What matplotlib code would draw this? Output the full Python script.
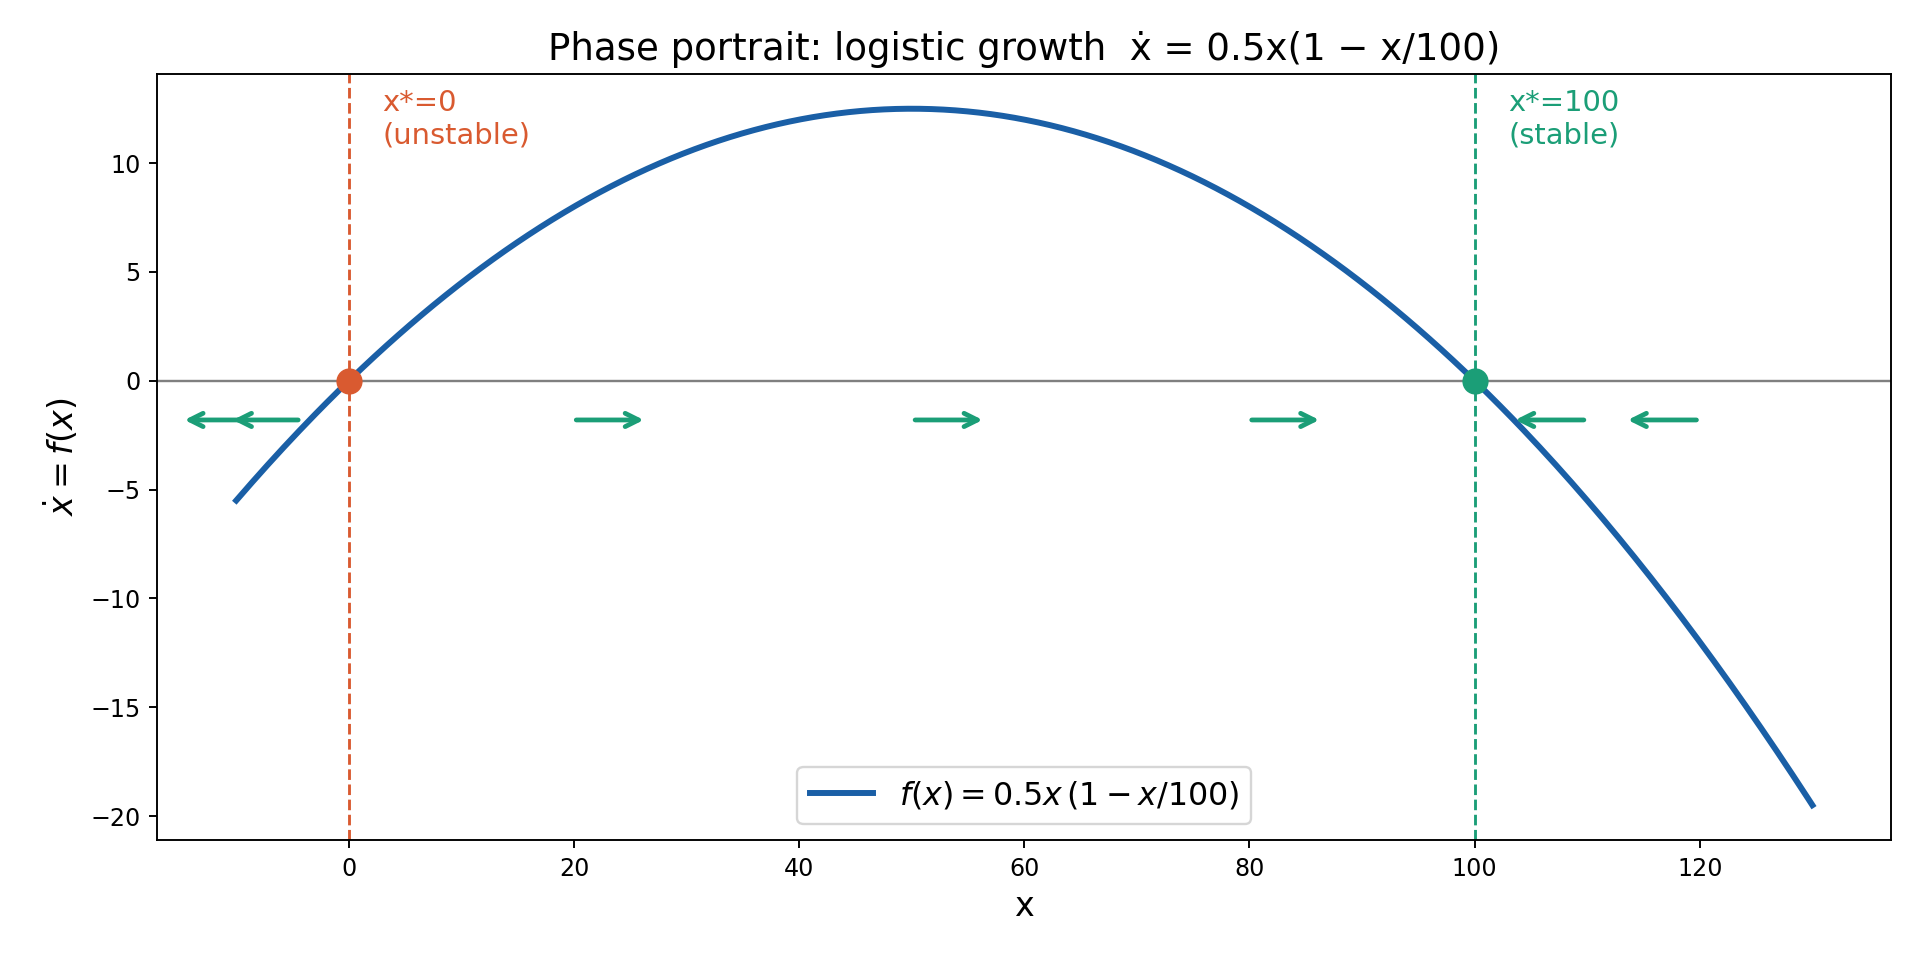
import numpy as np
import matplotlib.pyplot as plt

# model parameters (from the title) and plotted range
r = 0.5
K = 100
x_min, x_max = -10, 130

# fixed points
fixed_x = [0, 100]
fixed_labels = ["x*=0\n(unstable)", "x*=100\n(stable)"]

# flow arrows on the line y = -1.8 (tail, head)
arrow_tails = [-4.5, -9.8, 20.2, 50.3, 80.2, 109.7, 119.7]
arrow_heads = [-10.3, -14.6, 26.2, 56.3, 86.2, 103.6, 113.6]
arrow_y = -1.8

blue = "#1a5fa6"
orange = "#d95a30"
green = "#1b9e77"

x = np.linspace(x_min, x_max, 400)
fx = r * x * (1 - x / K)

fig, ax = plt.subplots(figsize=(11.2, 5.6), dpi=171.43)
fig.subplots_adjust(left=0.082, right=0.985, top=0.923, bottom=0.125)

ax.plot(x, fx, color=blue, lw=2.5, label=r"$f(x) = 0.5x\,(1 - x/100)$")
ax.axhline(0, color="gray", lw=1)

colors = [orange, green]
for xs, lab, c in zip(fixed_x, fixed_labels, colors):
    ax.axvline(xs, color=c, ls="--", lw=1.2)
    ax.plot(xs, 0, "o", color=c, ms=10, zorder=5)
    ax.text(xs + 3, 13.4, lab, color=c, fontsize=12.2, va="top", ha="left")

for t, h in zip(arrow_tails, arrow_heads):
    ax.annotate("", xy=(h, arrow_y), xytext=(t, arrow_y),
                arrowprops=dict(arrowstyle="->", color=green, lw=2,
                                mutation_scale=14, shrinkA=0, shrinkB=0))

ax.set_xlabel("x", fontsize=14)
ax.set_ylabel(r"$\dot{x} = f(x)$", fontsize=14)
ax.set_title("Phase portrait: logistic growth  \u1e8b = 0.5x(1 \u2212 x/100)", fontsize=15.6)
ax.legend(loc="lower center", fontsize=13.3)

plt.savefig("out.png")
